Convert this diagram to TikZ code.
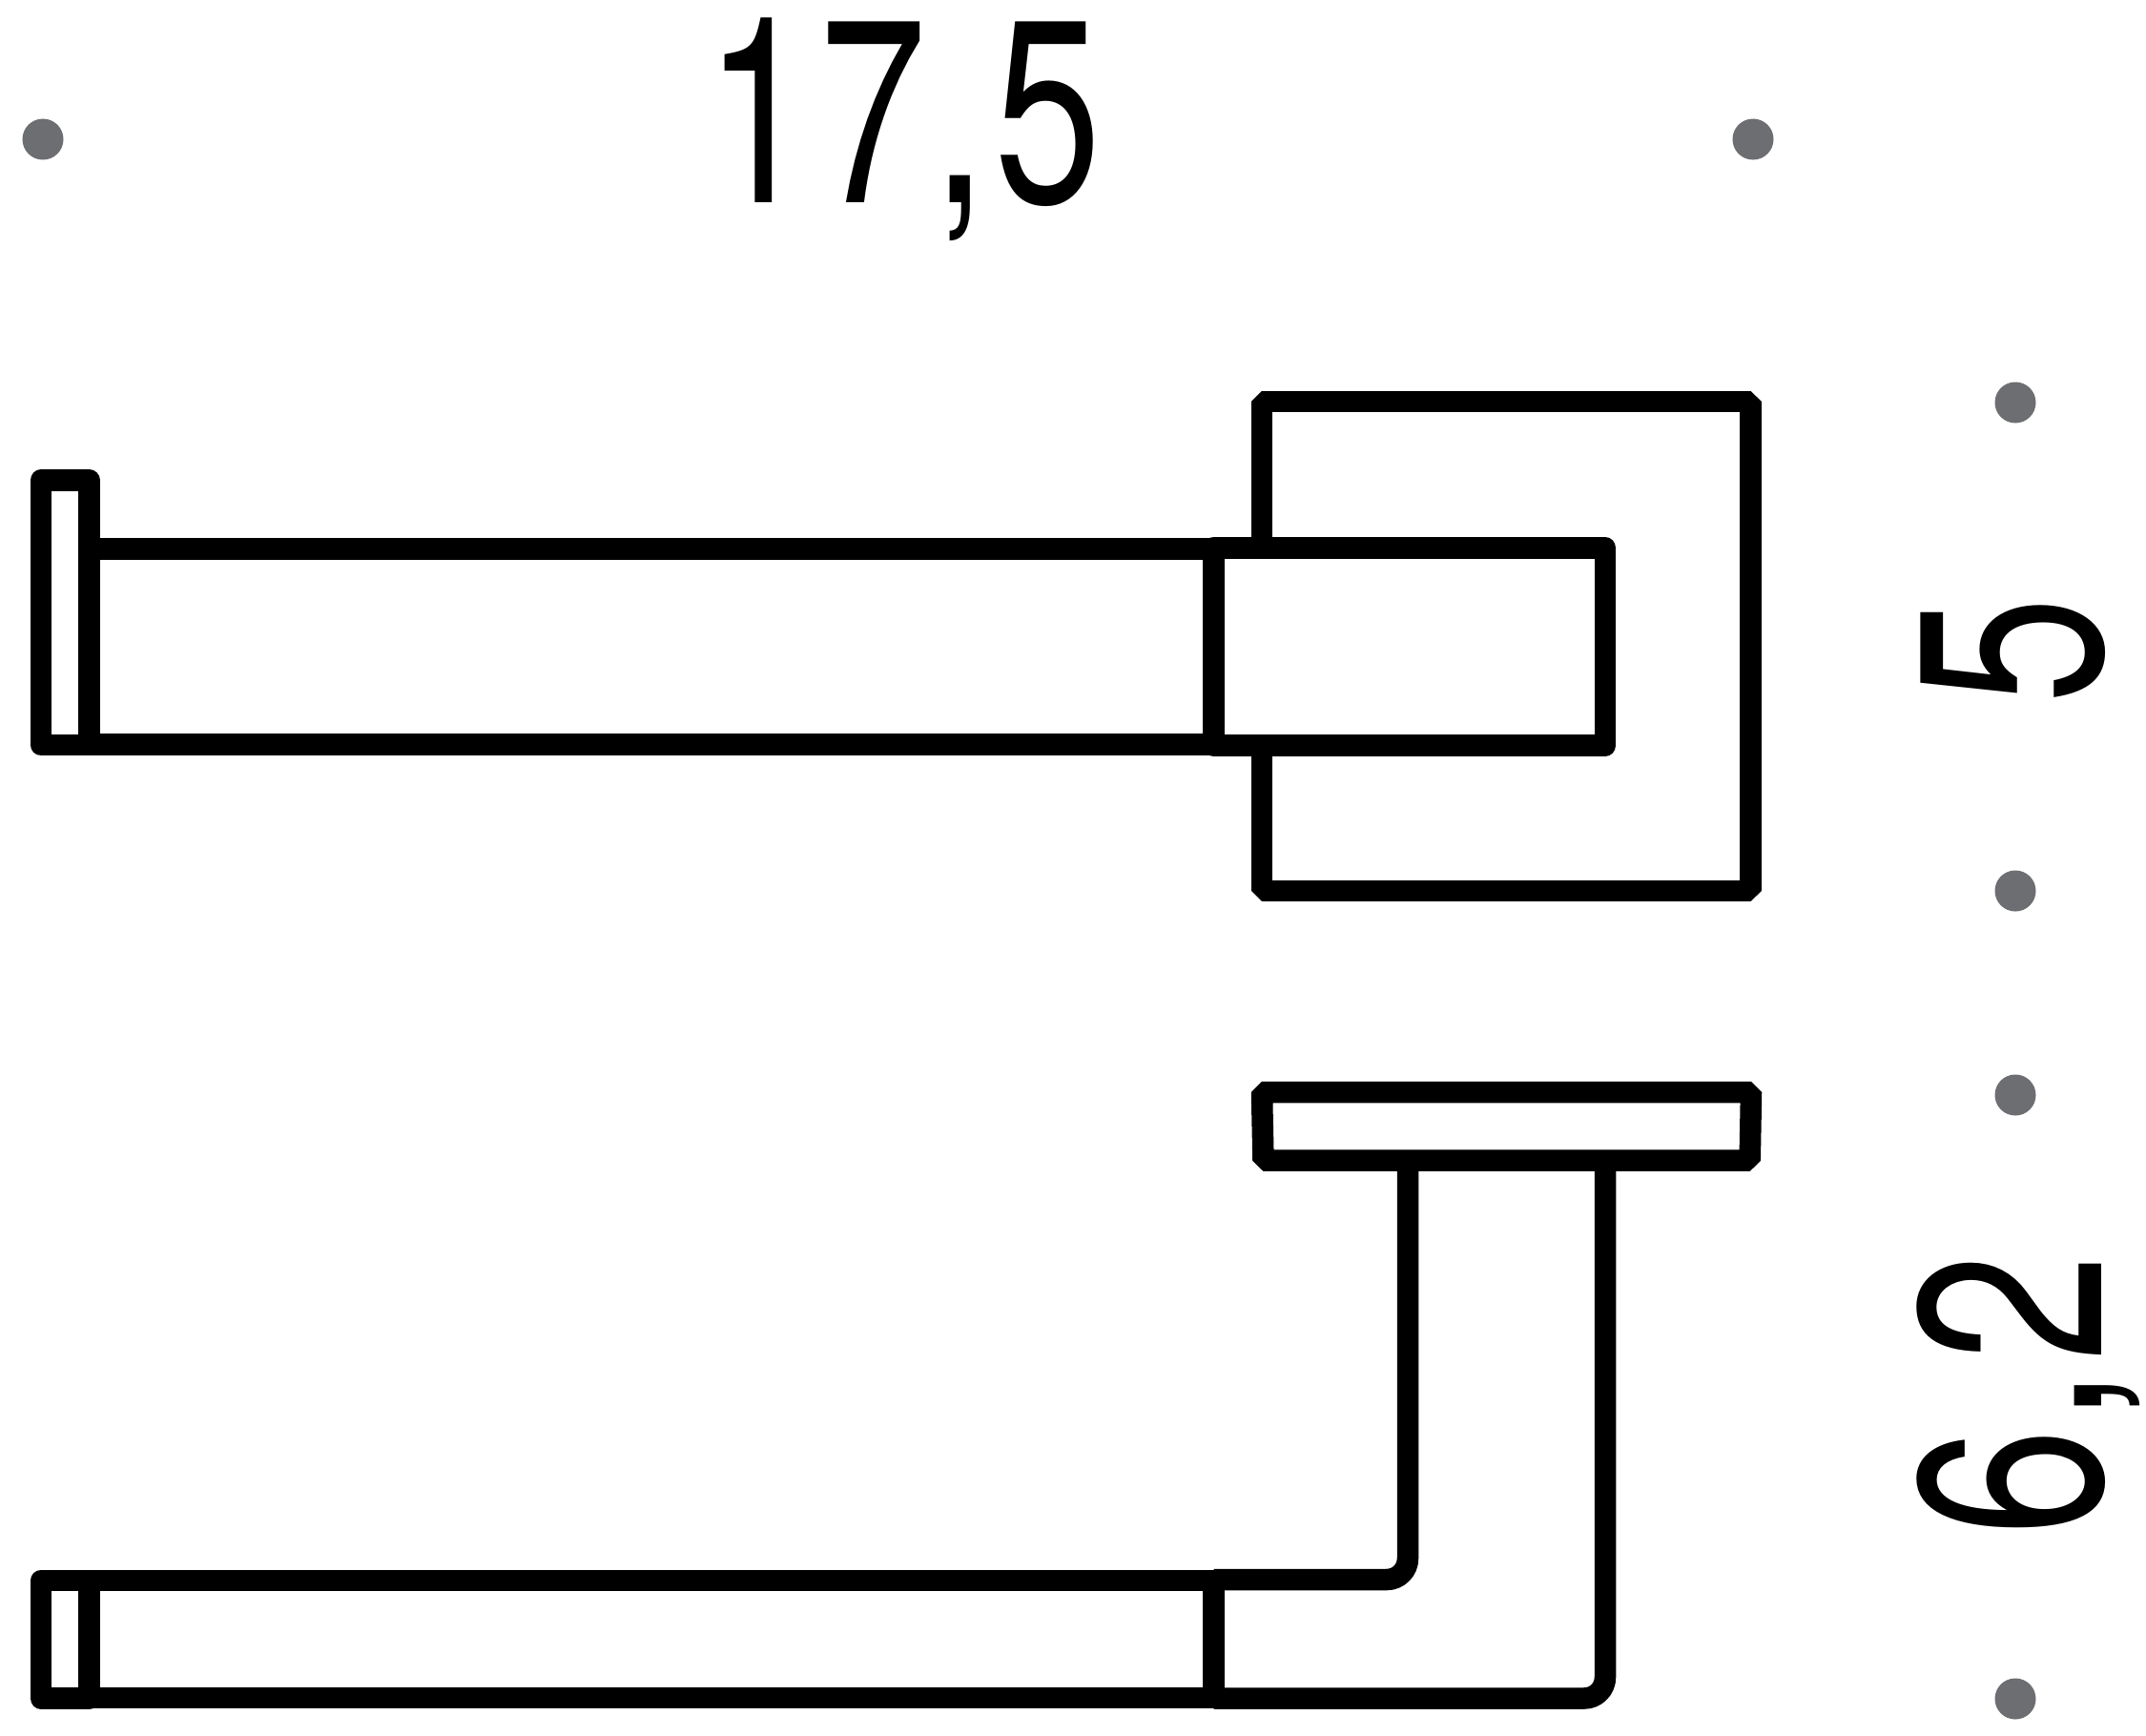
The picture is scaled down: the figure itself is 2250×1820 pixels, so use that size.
\documentclass[tikz,border=0pt]{standalone}
\usepackage{fontspec}
\setmainfont[LetterSpace=3.6]{TeX Gyre Heros}
\definecolor{dotgray}{HTML}{6D6E71}
\tikzset{
    part/.style={line width=2.25mm,line join=round},
    plate/.style={part,line join=bevel},
    marker/.style={circle,fill=dotgray,inner sep=0pt,minimum size=4.3mm},
    size/.style={inner sep=0pt,anchor=base,font=\fontsize{77.7}{80}\selectfont}
}
\begin{document}
\begin{tikzpicture}[x=0.01cm,y=-0.01cm]
    \useasboundingbox (0,0) rectangle (2250,1820);

    % markers of the dimensions
    \node[marker] (WL) at (45,146) {};
    \node[marker] (WR) at (1838,146) {};
    \node[marker] (AT) at (2113,422) {};
    \node[marker] (AB) at (2113,934) {};
    \node[marker] (BT) at (2113,1148) {};
    \node[marker] (BB) at (2113,1781) {};

    \node[size,xscale=0.74] (W) at (947,212) {17,5};
    \node[size,rotate=90,xscale=0.74] (A) at (2203,682) {5};
    \node[size,rotate=90,xscale=0.74] (B) at (2203,1463) {6,2};

    % front view
    \coordinate (P1) at (1323,574.5);
    \coordinate (P2) at (1323,421);
    \coordinate (P3) at (1835.5,421);
    \coordinate (P4) at (1835.5,934);
    \coordinate (P5) at (1323,934);
    \coordinate (P6) at (1323,781.5);
    \draw[plate] (P1) -- (P2) -- (P3) -- (P4) -- (P5) -- (P6);

    \draw[part] (43,503.5) rectangle (93.5,781);
    \draw[part] (1272.5,574.5) rectangle (1683,781.5);
    \draw[part] (93.5,575.5) -- (1272.5,575.5);
    \draw[part] (93.5,780.5) -- (1272.5,780.5);

    % side view
    \coordinate (T1) at (1323,1145);
    \coordinate (T2) at (1836,1145);
    \coordinate (T3) at (1834.7,1216.7);
    \coordinate (T4) at (1324.5,1216.7);
    \draw[plate] (T1) -- (T2) -- (T3) -- (T4) -- cycle;

    \draw[part] (43,1657) rectangle (93.5,1780.5);
    \draw[part] (93.5,1657) -- (1272.5,1657);
    \draw[part] (93.5,1780) -- (1272.5,1780);
    \draw[part] (1272.5,1656) -- (1272.5,1780.5);

    \draw[part,rounded corners=2.2mm] (1272.5,1656) -- (1476,1656) -- (T4 -| 1476,0);
    \draw[part,rounded corners=2.2mm] (1272.5,1780.5) -- (1683,1780.5) -- (T4 -| 1683,0);
\end{tikzpicture}
\end{document}
